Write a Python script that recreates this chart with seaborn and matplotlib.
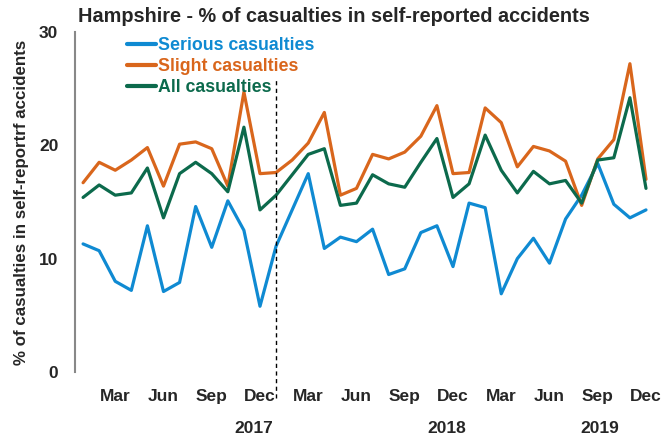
import pandas as pd
import numpy as np
import matplotlib
matplotlib.use("Agg")
import matplotlib.pyplot as plt
import seaborn as sns

# monthly values, Jan 2017 .. Dec 2019
serious = [11.3, 10.7, 8.0, 7.2, 12.9, 7.1, 7.9, 14.6, 11.0, 15.1, 12.5, 5.8,
           11.1, 14.3, 17.5, 10.9, 11.9, 11.5, 12.6, 8.6, 9.1, 12.3, 12.9, 9.3,
           14.9, 14.5, 6.9, 10.0, 11.8, 9.6, 13.5, 15.6, 18.4, 14.8, 13.6, 14.3]
slight = [16.7, 18.5, 17.8, 18.7, 19.8, 16.4, 20.1, 20.3, 19.7, 16.4, 24.7, 17.5,
          17.6, 18.7, 20.2, 22.9, 15.6, 16.2, 19.2, 18.8, 19.4, 20.8, 23.5, 17.5,
          17.6, 23.3, 22.0, 18.1, 19.9, 19.5, 18.6, 14.7, 18.8, 20.5, 27.2, 17.0]
all_cas = [15.4, 16.5, 15.6, 15.8, 18.0, 13.6, 17.5, 18.5, 17.5, 15.9, 21.6, 14.3,
           15.6, 17.4, 19.2, 19.7, 14.7, 14.9, 17.4, 16.6, 16.3, 18.5, 20.6, 15.4,
           16.6, 20.9, 17.8, 15.8, 17.7, 16.6, 16.9, 14.9, 18.7, 18.9, 24.2, 16.2]

series_names = ["Serious casualties", "Slight casualties", "All casualties"]
colours = ["#0F8AD2", "#D9661C", "#0C6A4C"]
month_labels = ["Mar", "Jun", "Sep", "Dec"] * 3
years = ["2017", "2018", "2019"]
year_pos = [10.6, 22.6, 32.1]

months = np.arange(len(serious))
df = pd.DataFrame({
    "month": np.tile(months, 3),
    "value": serious + slight + all_cas,
    "series": np.repeat(series_names, len(months)),
})

sns.set_style("white")
plt.rcParams["font.family"] = ["Liberation Sans", "DejaVu Sans"]
plt.rcParams["font.weight"] = "bold"

fig = plt.figure(figsize=(6.64, 4.41), dpi=100)
ax = fig.add_axes([0.113, 0.1565, 0.872, 0.771])

sns.lineplot(data=df, x="month", y="value", hue="series",
             palette=dict(zip(series_names, colours)), linewidth=2.3, ax=ax)

ax.axvline(12, ymin=-0.077, ymax=0.865, color="black", linestyle=(0, (3, 2.5)),
           linewidth=1, clip_on=False)

ax.set_xlim(-0.5, 35.5)
ax.set_ylim(0, 30)
ax.set_yticks([0, 10, 20, 30])
ax.set_yticklabels(["0", "10", "20", "30"], fontsize=12.5, fontweight="bold")
ax.set_xticks(months[2::3])
ax.set_xticklabels(month_labels, fontsize=12.5, fontweight="bold")
ax.tick_params(axis="both", length=0)
ax.tick_params(axis="y", pad=12)
ax.tick_params(axis="x", pad=12)
ax.set_xlabel("")
ax.set_ylabel("% of casualties in self-reportrf accidents", fontsize=12.2,
              fontweight="bold", labelpad=7)

for yr, xp in zip(years, year_pos):
    ax.text(xp, -5.0, yr, ha="center", va="center", fontsize=12.5,
            fontweight="bold")

for s in ["top", "right", "bottom"]:
    ax.spines[s].set_visible(False)
ax.spines["left"].set_color("#888888")
ax.spines["left"].set_linewidth(1.5)

leg = ax.legend(loc="upper left", bbox_to_anchor=(0.09, 0.985), frameon=False,
                handlelength=1.6, handletextpad=0.15, labelspacing=0.22,
                borderaxespad=0, borderpad=0, prop={"size": 12.8, "weight": "bold"},
                labelcolor="linecolor")
for line in leg.get_lines():
    line.set_linewidth(3)

fig.text(78 / 664, 1 - 17 / 441, "Hampshire - % of casualties in self-reported accidents",
         fontsize=14.3, fontweight="bold", va="center", ha="left")

fig.savefig("out.png", dpi=100)
